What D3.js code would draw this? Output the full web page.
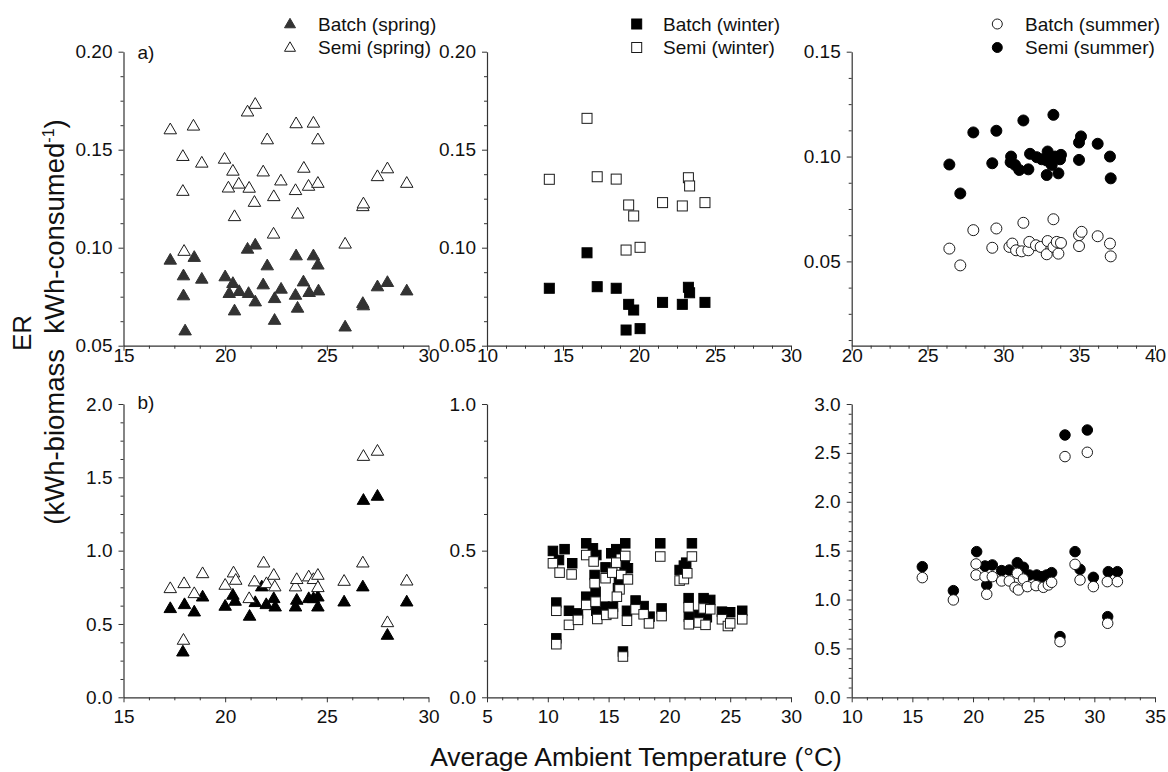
<!DOCTYPE html>
<html><head><meta charset="utf-8">
<script src="https://cdn.jsdelivr.net/npm/d3@7"></script>
<style>
body{margin:0;background:#fff}
svg{display:block}
text{font-family:Arial,"Liberation Sans",sans-serif;fill:#111}
</style>
</head><body>
<svg id="chart" width="1168" height="772"></svg>
<script>
// ---------------- DATA ----------------
// Top row: ER (kWh-biomass / kWh-consumed)
const springBatchER = [[17.30,0.0938],[17.95,0.0858],[17.95,0.0756],[18.03,0.0577],[18.48,0.0952],[18.85,0.0841],[20.00,0.0853],[20.38,0.0819],[20.20,0.0768],[20.69,0.0778],[20.46,0.0679],[21.10,0.0994],[21.48,0.1015],[21.15,0.0768],[21.48,0.0725],[22.07,0.0909],[21.87,0.0812],[22.43,0.0742],[22.75,0.0790],[22.43,0.0631],[23.49,0.0960],[23.46,0.0759],[23.56,0.0693],[23.85,0.0827],[24.13,0.0773],[24.34,0.0960],[24.56,0.0913],[24.59,0.0781],[25.90,0.0597],[26.77,0.0717],[26.80,0.0705],[27.49,0.0802],[27.98,0.0824],[28.93,0.0781]];
const springSemiER = [[17.30,0.1603],[18.44,0.1622],[17.92,0.1467],[17.92,0.1289],[17.98,0.0983],[18.85,0.1433],[19.97,0.1453],[20.38,0.1392],[20.16,0.1306],[20.67,0.1326],[20.46,0.1160],[21.10,0.1694],[21.48,0.1733],[21.18,0.1305],[21.44,0.1233],[22.07,0.1552],[21.87,0.1388],[22.39,0.1262],[22.74,0.1342],[22.38,0.1071],[23.49,0.1634],[23.46,0.1293],[23.57,0.1173],[23.87,0.1407],[24.10,0.1315],[24.34,0.1637],[24.56,0.1552],[24.56,0.1330],[25.90,0.1020],[26.77,0.1211],[26.80,0.1225],[27.49,0.1364],[27.98,0.1404],[28.93,0.1330]];
const winterBatchER = [[14.10,0.0793],[16.58,0.0974],[17.25,0.0801],[18.50,0.0793],[19.32,0.0711],[19.65,0.0682],[19.15,0.0580],[20.07,0.0587],[21.55,0.0721],[22.85,0.0711],[23.25,0.0798],[23.33,0.0770],[24.34,0.0721]];
const winterSemiER = [[14.10,0.1349],[16.58,0.1660],[17.25,0.1362],[18.50,0.1350],[19.32,0.1218],[19.65,0.1162],[19.15,0.0988],[20.07,0.1002],[21.55,0.1230],[22.85,0.1213],[23.25,0.1357],[23.33,0.1315],[24.34,0.1230]];
const summerSemiER = [[26.44,0.0962],[27.16,0.0824],[28.02,0.1115],[29.27,0.0968],[29.54,0.1123],[30.48,0.0973],[30.51,0.1000],[30.77,0.0960],[31.05,0.0936],[31.32,0.1172],[31.65,0.0939],[31.76,0.1013],[32.20,0.0997],[32.53,0.0987],[32.86,0.0981],[32.92,0.1024],[32.86,0.0912],[33.03,0.1000],[33.19,0.0960],[33.30,0.1199],[33.41,0.1000],[33.63,0.0920],[33.74,0.0987],[33.80,0.1008],[34.99,0.1067],[35.12,0.1096],[34.99,0.0984],[36.22,0.1061],[37.03,0.1000],[37.08,0.0896]];
const summerBatchER = [[26.44,0.0561],[27.16,0.0481],[28.02,0.0649],[29.27,0.0565],[29.54,0.0657],[30.40,0.0569],[30.59,0.0585],[30.84,0.0553],[31.21,0.0548],[31.32,0.0684],[31.65,0.0553],[31.71,0.0593],[32.15,0.0577],[32.46,0.0569],[32.92,0.0597],[32.86,0.0534],[33.30,0.0569],[33.30,0.0701],[33.52,0.0593],[33.63,0.0537],[33.80,0.0588],[34.99,0.0625],[35.16,0.0641],[34.99,0.0573],[36.22,0.0620],[37.03,0.0585],[37.08,0.0524]];
// Bottom row
const springBatchB = [[17.30,0.607],[18.00,0.634],[17.92,0.311],[18.48,0.584],[18.89,0.686],[20.00,0.623],[20.38,0.698],[20.49,0.657],[21.20,0.555],[21.48,0.648],[21.80,0.755],[22.02,0.634],[22.39,0.675],[22.46,0.618],[23.46,0.618],[23.52,0.664],[24.11,0.675],[24.34,0.675],[24.56,0.686],[24.56,0.618],[25.85,0.652],[26.77,0.755],[26.80,1.345],[27.49,1.373],[27.98,0.425],[28.93,0.652]];
const springSemiB = [[17.30,0.743],[17.98,0.777],[17.95,0.391],[18.48,0.709],[18.89,0.845],[20.00,0.766],[20.41,0.850],[20.52,0.800],[21.18,0.675],[21.44,0.789],[21.89,0.918],[22.03,0.777],[22.39,0.834],[22.44,0.755],[23.46,0.755],[23.52,0.805],[24.11,0.823],[24.34,0.805],[24.56,0.834],[24.56,0.750],[25.85,0.793],[26.77,0.918],[26.80,1.645],[27.49,1.680],[27.98,0.511],[28.93,0.795]];
const winterBatchB = [[10.42,0.499],[10.70,0.323],[10.70,0.201],[10.92,0.468],[11.38,0.505],[12.01,0.457],[11.74,0.295],[12.48,0.286],[13.16,0.525],[13.16,0.343],[13.71,0.508],[13.99,0.485],[13.85,0.417],[13.93,0.360],[13.99,0.295],[14.67,0.309],[14.75,0.443],[15.22,0.491],[15.36,0.309],[15.63,0.505],[15.77,0.372],[15.85,0.400],[16.37,0.525],[16.32,0.451],[16.51,0.295],[16.59,0.440],[17.22,0.330],[17.88,0.311],[18.37,0.275],[19.25,0.525],[19.36,0.303],[20.84,0.434],[21.19,0.449],[21.38,0.459],[21.58,0.338],[21.60,0.275],[21.85,0.525],[22.42,0.281],[22.81,0.338],[23.08,0.273],[23.36,0.332],[24.32,0.292],[25.00,0.290],[25.99,0.295],[16.18,0.156]];
const winterSemiB = [[10.42,0.457],[10.97,0.425],[10.70,0.181],[10.70,0.295],[11.96,0.419],[11.74,0.247],[12.48,0.264],[13.16,0.485],[13.16,0.315],[13.77,0.463],[13.85,0.389],[13.93,0.326],[14.07,0.267],[14.75,0.406],[14.81,0.281],[15.30,0.425],[15.36,0.286],[15.63,0.459],[15.90,0.368],[15.68,0.343],[16.37,0.482],[16.04,0.417],[16.59,0.402],[16.51,0.261],[16.18,0.139],[17.22,0.300],[17.88,0.283],[18.32,0.252],[19.25,0.480],[19.36,0.277],[20.84,0.398],[21.19,0.403],[21.47,0.423],[21.58,0.307],[21.60,0.249],[21.85,0.480],[22.42,0.255],[22.81,0.303],[22.97,0.247],[23.36,0.300],[24.32,0.266],[24.81,0.243],[25.00,0.252],[25.99,0.266]];
const summerSemiB = [[15.82,1.336],[18.38,1.091],[20.30,1.490],[20.99,1.343],[21.13,1.149],[21.59,1.354],[22.36,1.296],[22.99,1.302],[23.65,1.377],[24.15,1.330],[24.64,1.251],[25.25,1.251],[25.71,1.234],[26.07,1.251],[26.48,1.275],[27.58,2.683],[27.17,0.621],[28.41,1.490],[28.82,1.309],[29.42,2.734],[29.92,1.227],[31.15,1.285],[31.10,0.825],[31.90,1.285]];
const summerBatchB = [[15.82,1.224],[18.38,0.996],[20.25,1.364],[20.25,1.251],[20.99,1.234],[21.13,1.054],[21.59,1.234],[22.36,1.190],[22.99,1.190],[23.46,1.125],[23.65,1.268],[23.74,1.098],[24.15,1.210],[24.48,1.132],[25.19,1.142],[25.80,1.125],[26.21,1.149],[26.48,1.176],[27.58,2.462],[27.17,0.569],[28.41,1.360],[28.82,1.200],[29.42,2.506],[29.92,1.132],[31.07,1.183],[31.10,0.757],[31.90,1.183]];

// Ticks
const xTicksSpring = [15,20,25,30];
const xTicksWinterTop = [10,15,20,25,30];
const xTicksSummerTop = [20,25,30,35,40];
const xTicksWinterBot = [5,10,15,20,25,30];
const xTicksSummerBot = [10,15,20,25,30,35];
const yTicksER = [0.05,0.10,0.15,0.20];
const yTicksERSummer = [0.05,0.10,0.15];
const yTicksB1 = [0.0,0.5,1.0,1.5,2.0];
const yTicksB2 = [0.0,0.5,1.0];
const yTicksB3 = [0.0,0.5,1.0,1.5,2.0,2.5,3.0];

const legendSpring = ["Batch (spring)","Semi (spring)"];
const legendWinter = ["Batch (winter)","Semi (winter)"];
const legendSummer = ["Batch (summer)","Semi (summer)"];
const panelLabels = ["a)","b)"];
const xTitle = "Average Ambient Temperature (\u00B0C)";

// ---------------- LAYOUT ----------------
const svg = d3.select("#chart");
const colX = [123.5, 487, 851.7];
const colW = [305, 304, 303.3];
const rowY = [51.7, 404];
const rowH = [294, 293.3];

function marker(g, shape, filled, cx, cy, sz, fillCol){
  const stroke = "#1a1a1a";
  let el;
  if (shape === "tri"){
    const w = sz, h = sz*0.86;
    el = g.append("path").attr("d",
      `M${cx},${cy-h*0.6}L${cx+w/2},${cy+h*0.4}L${cx-w/2},${cy+h*0.4}Z`);
  } else if (shape === "sq"){
    el = g.append("rect").attr("x",cx-sz/2).attr("y",cy-sz/2).attr("width",sz).attr("height",sz);
  } else {
    el = g.append("circle").attr("cx",cx).attr("cy",cy).attr("r",sz/2);
  }
  el.attr("fill", filled ? fillCol : "#fff")
    .attr("stroke", filled ? fillCol : stroke)
    .attr("stroke-width", 1);
}

const panels = [
  {c:0,r:0,xd:[15,30],yd:[0.05,0.20],xt:xTicksSpring,yt:yTicksER,ymin:0.0125,fmt:".2f",
   series:[{d:springBatchER,shape:"tri",filled:true,col:"#333",sz:12.5},{d:springSemiER,shape:"tri",filled:false,sz:12.5}],
   legend:legendSpring,leg:{mx:290,tx:318,shape:"tri",f:[true,false],col:"#333"},label:panelLabels[0]},
  {c:1,r:0,xd:[10,30],yd:[0.05,0.20],xt:xTicksWinterTop,yt:yTicksER,ymin:0.0125,fmt:".2f",
   series:[{d:winterBatchER,shape:"sq",filled:true,col:"#000",sz:10},{d:winterSemiER,shape:"sq",filled:false,sz:10}],
   legend:legendWinter,leg:{mx:636.7,tx:663,shape:"sq",f:[true,false],col:"#000"}},
  {c:2,r:0,xd:[20,40],yd:[0.0098,0.15],xt:xTicksSummerTop,yt:yTicksERSummer,ymin:0.0125,fmt:".2f",
   series:[{d:summerSemiER,shape:"circ",filled:true,col:"#000",sz:11},{d:summerBatchER,shape:"circ",filled:false,sz:11}],
   legend:legendSummer,leg:{mx:997.3,tx:1025,shape:"circ",f:[false,true],col:"#000"}},
  {c:0,r:1,xd:[15,30],yd:[0,2],xt:xTicksSpring,yt:yTicksB1,ymin:0.125,fmt:".1f",
   series:[{d:springBatchB,shape:"tri",filled:true,col:"#000",sz:12.5},{d:springSemiB,shape:"tri",filled:false,sz:12.5}],
   label:panelLabels[1]},
  {c:1,r:1,xd:[5,30],yd:[0,1],xt:xTicksWinterBot,yt:yTicksB2,ymin:0.125,fmt:".1f",
   series:[{d:winterBatchB,shape:"sq",filled:true,col:"#000",sz:9.5},{d:winterSemiB,shape:"sq",filled:false,sz:9.5}]},
  {c:2,r:1,xd:[10,35],yd:[0,3],xt:xTicksSummerBot,yt:yTicksB3,ymin:0.1,fmt:".1f",
   series:[{d:summerSemiB,shape:"circ",filled:true,col:"#000",sz:10.5},{d:summerBatchB,shape:"circ",filled:false,sz:10.5}]}
];

panels.forEach(p=>{
  const x0 = colX[p.c], w = colW[p.c], y0 = rowY[p.r], h = rowH[p.r];
  const x = d3.scaleLinear().domain(p.xd).range([x0, x0+w]);
  const y = d3.scaleLinear().domain(p.yd).range([y0+h, y0]);
  const g = svg.append("g");

  // minor ticks
  const xMinor = d3.range(p.xd[0], p.xd[1]+1e-9, 1.25).filter(v=>Math.abs(v/5-Math.round(v/5))>1e-6);
  const yStart = Math.ceil((p.yd[0]-1e-9)/p.ymin)*p.ymin;
  const yMinor = d3.range(yStart, p.yd[1]+1e-9, p.ymin).filter(v=>!p.yt.some(t=>Math.abs(t-v)<1e-6));

  g.append("g").attr("transform",`translate(0,${y0+h})`)
    .call(d3.axisBottom(x).tickValues(p.xt).tickSize(5).tickSizeOuter(0)
      .tickPadding(p.r===0?-2:7).tickFormat(d3.format("d")));
  g.append("g").attr("transform",`translate(0,${y0+h})`)
    .call(d3.axisBottom(x).tickValues(xMinor).tickSize(3).tickSizeOuter(0).tickFormat(""))
    .select(".domain").remove();
  g.append("g").attr("transform",`translate(${x0},0)`)
    .call(d3.axisLeft(y).tickValues(p.yt).tickSize(5).tickSizeOuter(0).tickPadding(6).tickFormat(d3.format(p.fmt)));
  g.append("g").attr("transform",`translate(${x0},0)`)
    .call(d3.axisLeft(y).tickValues(yMinor).tickSize(3).tickSizeOuter(0).tickFormat(""))
    .select(".domain").remove();
  g.selectAll(".domain").attr("stroke","#333").attr("stroke-width",1.2);
  g.selectAll(".tick line").attr("stroke","#333");
  g.selectAll(".tick text").attr("font-size",19).attr("font-family","Arial, 'Liberation Sans', sans-serif").attr("fill","#111");

  // data
  p.series.forEach(s=>{
    const sg = svg.append("g");
    s.d.forEach(([xv,yv])=> marker(sg, s.shape, s.filled, x(xv), y(yv), s.sz, s.col));
  });

  // legend
  if (p.legend){
    const lg = svg.append("g");
    const ys = [24, 47.5];
    p.legend.forEach((t,i)=>{
      marker(lg, p.leg.shape, p.leg.f[i], p.leg.mx, ys[i], p.leg.shape==="tri"?11:10, p.leg.col);
      lg.append("text").attr("x",p.leg.tx).attr("y",ys[i]+6.5).attr("font-size",19).text(t);
    });
  }
  if (p.label){
    svg.append("text").attr("x",x0+14).attr("y",y0+(p.r===0?7:5)).attr("font-size",19).text(p.label);
  }
});

// axis titles
svg.append("text").attr("x",636).attr("y",766).attr("text-anchor","middle")
  .attr("font-size",26.5).text(xTitle);
svg.append("text").attr("transform","translate(31,333) rotate(-90)").attr("text-anchor","middle")
  .attr("font-size",26).text("ER");
const yt2 = svg.append("text").attr("transform","translate(64,322) rotate(-90)").attr("text-anchor","middle")
  .attr("font-size",27.5);
yt2.append("tspan").text("(kWh-biomass\u00A0\u00A0kWh-consumed");
yt2.append("tspan").attr("font-size",16).attr("dy",-10).text("-1");
yt2.append("tspan").attr("dy",10).text(")");
</script>
</body></html>
